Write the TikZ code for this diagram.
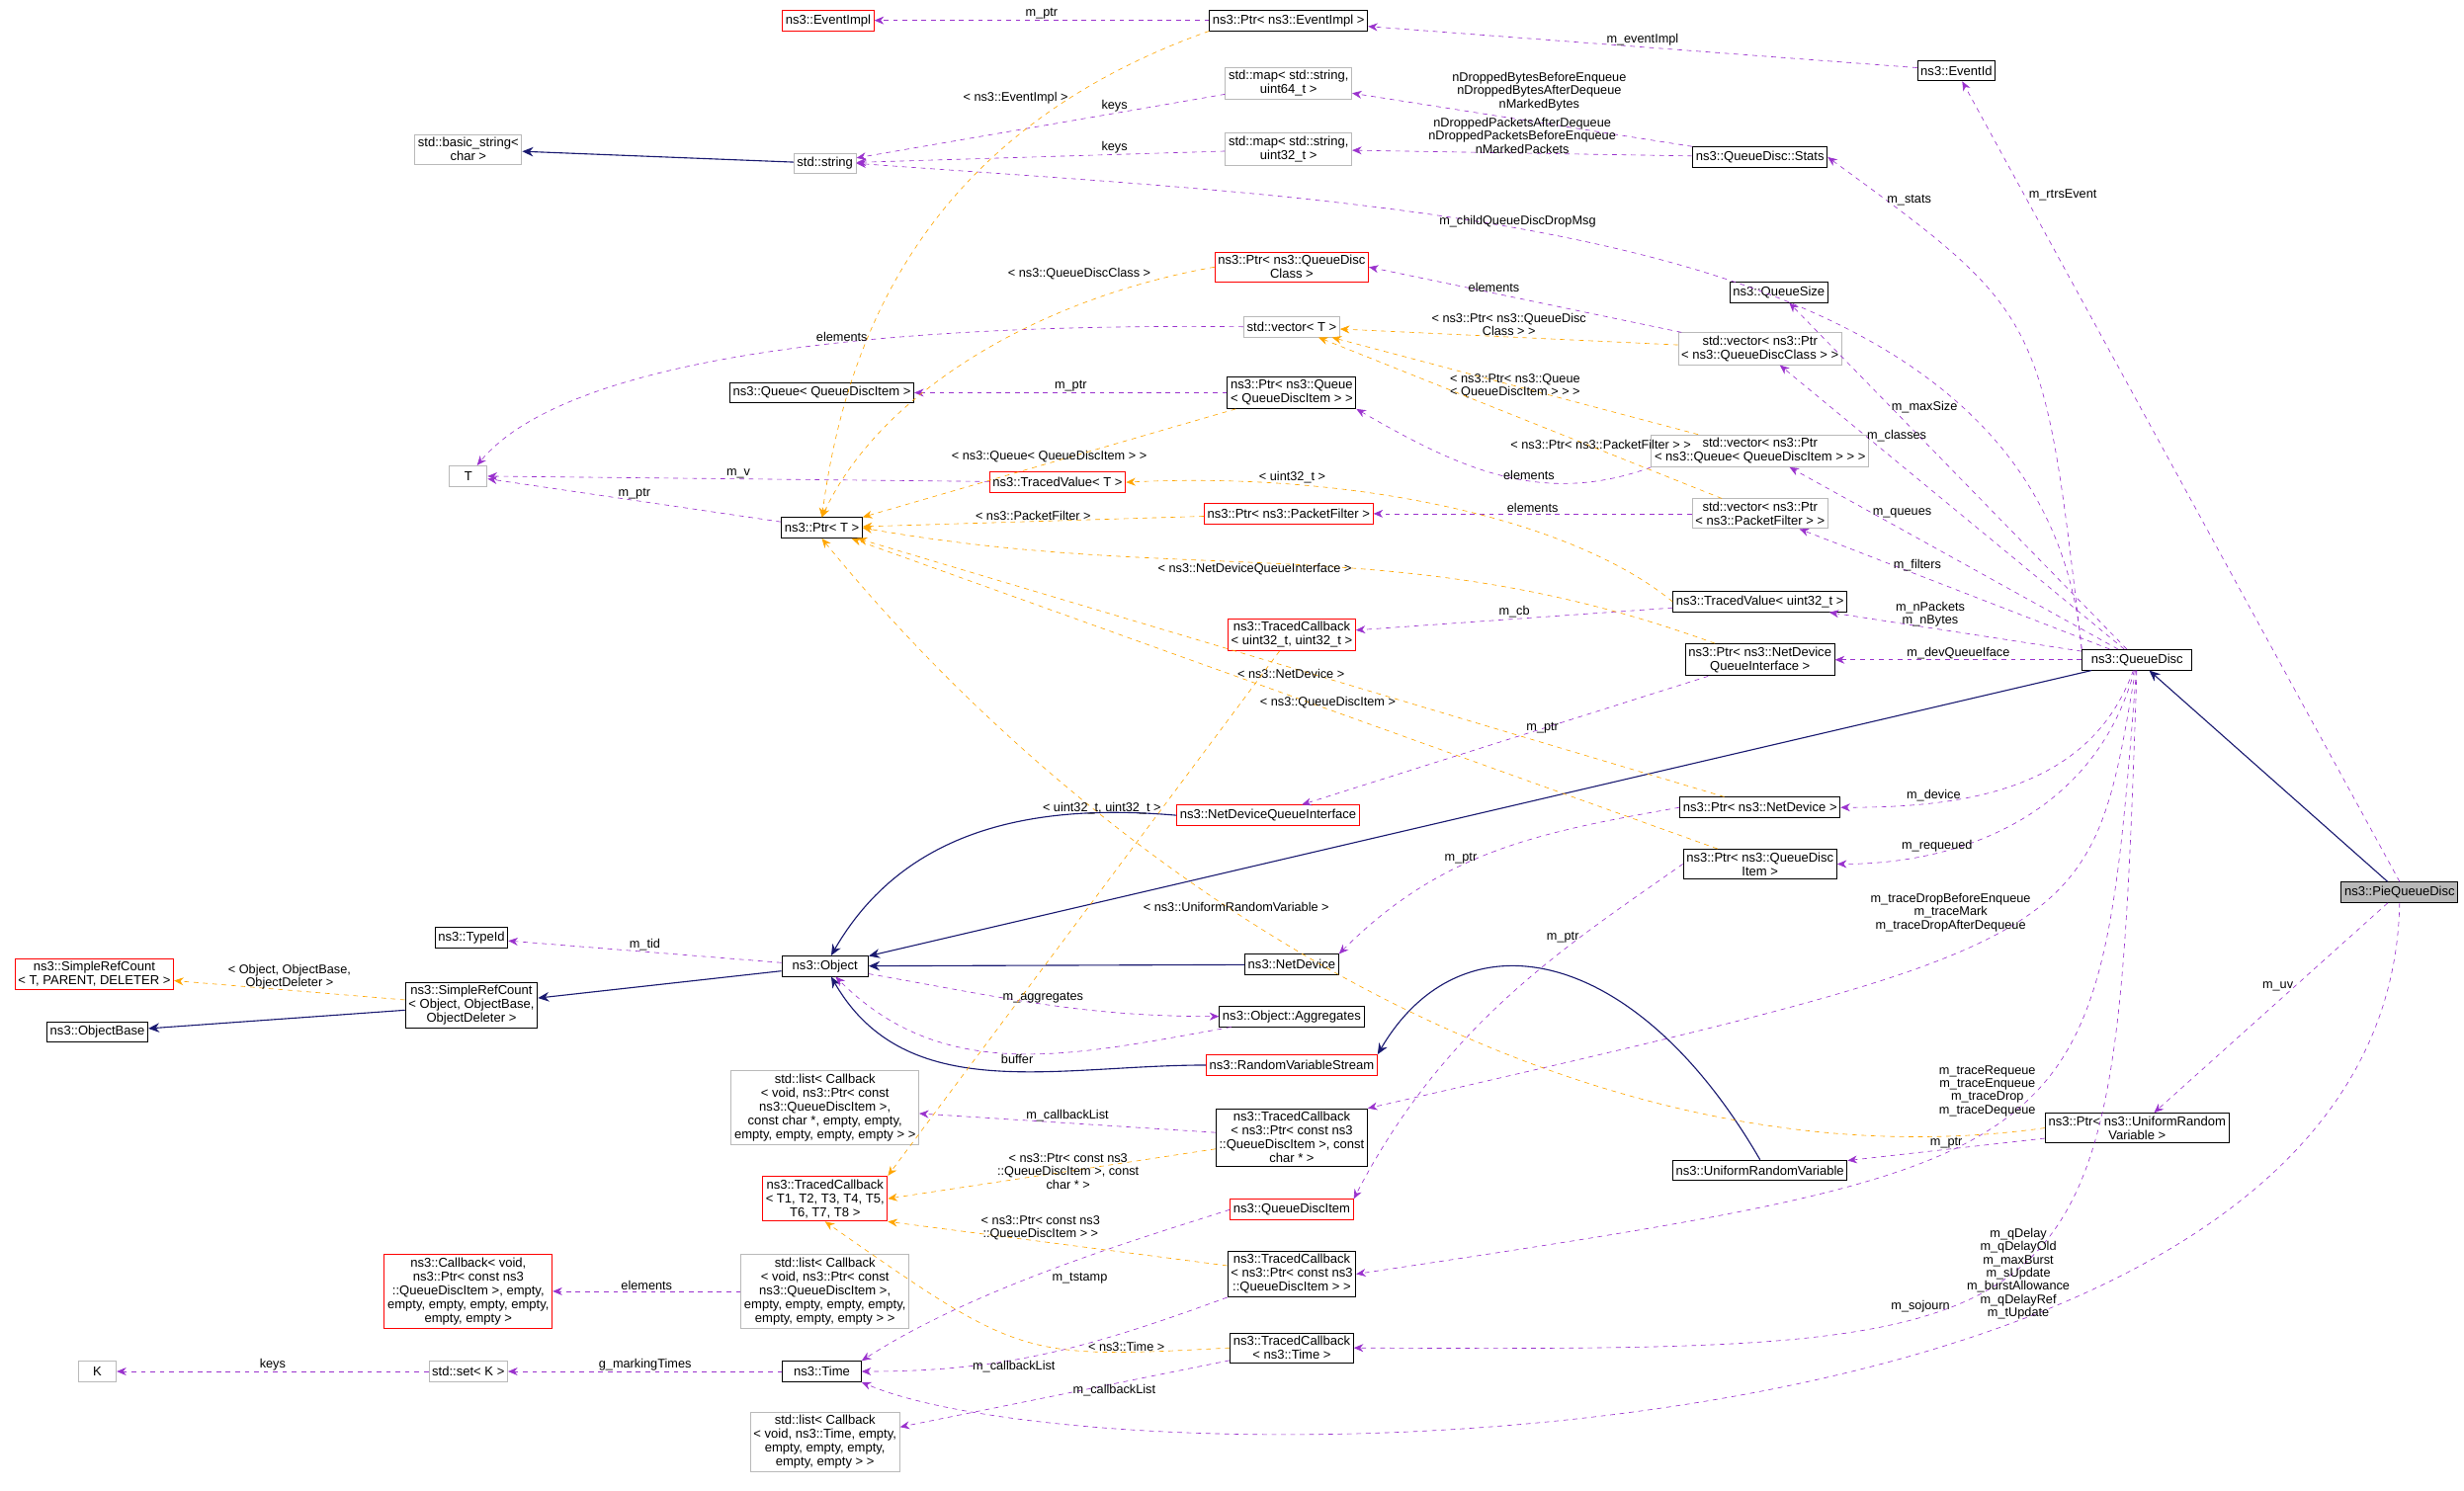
\documentclass[tikz,border=0pt]{standalone}
\usepackage{fontspec}
\setmainfont{Liberation Sans}
\usetikzlibrary{arrows.meta}
\definecolor{usec}{HTML}{9A32CD}
\definecolor{tplc}{HTML}{FFA500}
\definecolor{inhc}{HTML}{191970}
\begin{document}
\begin{tikzpicture}[x=1pt,y=-1pt,
  every node/.style={font=\fontsize{8.2}{8.8}\selectfont,align=center},
  box/.style={draw=black,inner sep=2pt,minimum height=13pt,line width=0.6pt},
  redbox/.style={draw=red,inner sep=2pt,minimum height=13pt,line width=0.6pt},
  graybox/.style={draw=gray!55,inner sep=2pt,minimum height=13pt,line width=0.6pt},
  usage/.style={draw=usec,dashed,-{Stealth[length=6pt,width=5pt]}},
  tpl/.style={draw=tplc,dashed,-{Stealth[length=6pt,width=5pt]}},
  inh/.style={draw=inhc,line width=0.7pt,-{Stealth[length=7pt,width=6pt]}},
  lbl/.style={inner sep=0.5pt,font=\fontsize{8}{8.4}\selectfont}]
\useasboundingbox (0,0) rectangle (1568,949);
% nodes
\node[redbox] (EventImpl) at (527,13) {ns3::EventImpl};
\node[box] (PtrEventImpl) at (820,13) {ns3::Ptr< ns3::EventImpl >};
\node[box] (EventId) at (1245,45) {ns3::EventId};
\node[graybox] (mapu64) at (820,53) {std::map< std::string,\\ uint64\_t >};
\node[graybox] (mapu32) at (820,95) {std::map< std::string,\\ uint32\_t >};
\node[graybox] (basicstring) at (298,95) {std::basic\_string<\\ char >};
\node[graybox] (string) at (525,104) {std::string};
\node[box] (Stats) at (1120,100) {ns3::QueueDisc::Stats};
\node[redbox] (PtrQDClass) at (822,170) {ns3::Ptr< ns3::QueueDisc\\Class >};
\node[box] (QueueSize) at (1132,186) {ns3::QueueSize};
\node[graybox] (vectorT) at (822,208) {std::vector< T >};
\node[graybox] (vecQDClass) at (1120,222) {std::vector< ns3::Ptr\\< ns3::QueueDiscClass > >};
\node[box] (QueueQDI) at (523,250) {ns3::Queue< QueueDiscItem >};
\node[box] (PtrQueue) at (822,250) {ns3::Ptr< ns3::Queue\\< QueueDiscItem > >};
\node[graybox] (vecQueue) at (1120,287) {std::vector< ns3::Ptr\\< ns3::Queue< QueueDiscItem > > >};
\node[graybox,minimum width=24pt] (T) at (298,303) {T};
\node[redbox] (TracedValueT) at (673,307) {ns3::TracedValue< T >};
\node[box] (PtrT) at (523,336) {ns3::Ptr< T >};
\node[redbox] (PtrPF) at (820,327) {ns3::Ptr< ns3::PacketFilter >};
\node[graybox] (vecPF) at (1120,327) {std::vector< ns3::Ptr\\< ns3::PacketFilter > >};
\node[box] (TracedValueU32) at (1120,383) {ns3::TracedValue< uint32\_t >};
\node[redbox] (TCu32) at (822,404) {ns3::TracedCallback\\< uint32\_t, uint32\_t >};
\node[box] (PtrNDQI) at (1120,420) {ns3::Ptr< ns3::NetDevice\\QueueInterface >};
\node[box,minimum width=70pt] (QueueDisc) at (1360,420) {ns3::QueueDisc};
\node[redbox] (NDQI) at (807,519) {ns3::NetDeviceQueueInterface};
\node[box] (PtrND) at (1120,514) {ns3::Ptr< ns3::NetDevice >};
\node[box] (PtrQDI) at (1120,550) {ns3::Ptr< ns3::QueueDisc\\Item >};
\node[box,fill=gray!55] (Pie) at (1527,568) {ns3::PieQueueDisc};
\node[box] (TypeId) at (300,597) {ns3::TypeId};
\node[redbox] (SRCR) at (60,620) {ns3::SimpleRefCount\\< T, PARENT, DELETER >};
\node[box] (SRC) at (300,640) {ns3::SimpleRefCount\\< Object, ObjectBase,\\ObjectDeleter >};
\node[box,minimum width=55pt] (Object) at (525,615) {ns3::Object};
\node[box] (NetDevice) at (822,614) {ns3::NetDevice};
\node[box] (ObjectBase) at (62,657) {ns3::ObjectBase};
\node[box] (Aggregates) at (822,647) {ns3::Object::Aggregates};
\node[redbox] (RVS) at (822,678) {ns3::RandomVariableStream};
\node[graybox] (listCB1) at (525,705) {std::list< Callback\\< void, ns3::Ptr< const\\ ns3::QueueDiscItem >,\\ const char *, empty, empty,\\ empty, empty, empty, empty > >};
\node[box] (TCqdic) at (822,724) {ns3::TracedCallback\\< ns3::Ptr< const ns3\\::QueueDiscItem >, const\\ char * >};
\node[box] (PtrURV) at (1360,718) {ns3::Ptr< ns3::UniformRandom\\Variable >};
\node[box] (URV) at (1120,745) {ns3::UniformRandomVariable};
\node[redbox] (TCgen) at (525,763) {ns3::TracedCallback\\< T1, T2, T3, T4, T5,\\ T6, T7, T8 >};
\node[redbox] (QDI) at (822,770) {ns3::QueueDiscItem};
\node[redbox] (CallbackR) at (298,822) {ns3::Callback< void,\\ ns3::Ptr< const ns3\\::QueueDiscItem >, empty,\\ empty, empty, empty, empty,\\ empty, empty >};
\node[graybox] (listCB2) at (525,822) {std::list< Callback\\< void, ns3::Ptr< const\\ ns3::QueueDiscItem >,\\ empty, empty, empty, empty,\\ empty, empty, empty > >};
\node[box] (TCqdi) at (822,811) {ns3::TracedCallback\\< ns3::Ptr< const ns3\\::QueueDiscItem > >};
\node[graybox,minimum width=24pt] (K) at (62,873) {K};
\node[graybox] (setK) at (298,873) {std::set< K >};
\node[box,minimum width=50pt] (Time) at (523,873) {ns3::Time};
\node[box] (TCtime) at (822,858) {ns3::TracedCallback\\< ns3::Time >};
\node[graybox] (listCB3) at (525,918) {std::list< Callback\\< void, ns3::Time, empty,\\ empty, empty, empty,\\ empty, empty > >};
% inheritance
\draw[inh] (string) -- (basicstring);
\draw[inh] (QueueDisc) -- (Object);
\draw[inh] (Pie) -- (QueueDisc);
\draw[inh] (NDQI.west) to[out=175,in=60] (Object);
\draw[inh] (NetDevice) -- (Object);
\draw[inh] (RVS.west) to[out=180,in=-60] (Object);
\draw[inh] (URV.north) .. controls (1040,600) and (930,580) .. (RVS.north east);
\draw[inh] (Object) -- (SRC);
\draw[inh] (SRC) -- (ObjectBase);
% usage
\draw[usage] (PtrEventImpl) -- node[lbl,above]{m\_ptr} (EventImpl);
\draw[usage] (EventId) -- node[lbl,above]{m\_eventImpl} (PtrEventImpl);
\draw[usage] (Pie.north) -- node[lbl,pos=0.85,above right]{m\_rtrsEvent} (EventId);
\draw[usage] (mapu64) -- node[lbl,above,pos=0.3]{keys} (string);
\draw[usage] (mapu32) -- node[lbl,above,pos=0.3]{keys} (string);
\draw[usage] (Stats) -- node[lbl,above,pos=0.45,yshift=7pt]{nDroppedBytesBeforeEnqueue\\nDroppedBytesAfterDequeue\\nMarkedBytes} (mapu64);
\draw[usage] (Stats) -- node[lbl,above,pos=0.5,yshift=-1pt]{nDroppedPacketsAfterDequeue\\nDroppedPacketsBeforeEnqueue\\nMarkedPackets} (mapu32);
\draw[usage] (QueueDisc.north west) .. controls (1300,200) .. node[lbl,pos=0.9,right]{m\_stats} (Stats.east);
\draw[usage] (QueueDisc.north west) .. controls (1300,140) and (900,130) .. node[lbl,pos=0.6,above]{m\_childQueueDiscDropMsg} (string.east);
\draw[usage] (vecQDClass) -- node[lbl,above,pos=0.6]{elements} (PtrQDClass.east);
\draw[usage] (QueueDisc) -- node[lbl,pos=0.7,right]{m\_maxSize} (QueueSize);
\draw[usage] (vectorT.west) .. controls (500,205) and (350,240) .. node[lbl,pos=0.35,above]{elements} (T);
\draw[usage] (QueueDisc) -- node[lbl,pos=0.75,right]{m\_classes} (vecQDClass);
\draw[usage] (PtrQueue) -- node[lbl,above]{m\_ptr} (QueueQDI);
\draw[usage] (vecQueue.south west) to[out=200,in=-30] node[lbl,pos=0.4,above]{elements} (PtrQueue.south east);
\draw[usage] (QueueDisc) -- node[lbl,pos=0.75,right]{m\_queues} (vecQueue);
\draw[usage] (TracedValueT) -- node[lbl,above]{m\_v} (T);
\draw[usage] (PtrT) -- node[lbl,above]{m\_ptr} (T);
\draw[usage] (vecPF) -- node[lbl,above]{elements} (PtrPF);
\draw[usage] (QueueDisc) -- node[lbl,pos=0.7,right]{m\_filters} (vecPF);
\draw[usage] (TracedValueU32) -- node[lbl,above]{m\_cb} (TCu32);
\draw[usage] (QueueDisc) -- node[lbl,pos=0.6,above]{m\_nPackets\\m\_nBytes} (TracedValueU32);
\draw[usage] (QueueDisc) -- node[lbl,pos=0.5,above]{m\_devQueueIface} (PtrNDQI);
\draw[usage] (PtrNDQI) -- node[lbl,pos=0.45,above right]{m\_ptr} (NDQI);
\draw[usage] (QueueDisc) to[out=-110,in=0] node[lbl,pos=0.75,above]{m\_device} (PtrND);
\draw[usage] (QueueDisc) to[out=-105,in=0] node[lbl,pos=0.75,above]{m\_requeued} (PtrQDI);
\draw[usage] (Object) -- node[lbl,above]{m\_tid} (TypeId);
\draw[usage] (Object) to[out=-10,in=180] node[lbl,above]{m\_aggregates} (Aggregates);
\draw[usage] (Aggregates) to[out=190,in=-45] node[lbl,below]{buffer} (Object);
\draw[usage] (PtrND.west) to[out=190,in=45] node[lbl,pos=0.55,left]{m\_ptr} (NetDevice.north east);
\draw[usage] (PtrQDI.west) .. controls (1000,600) and (920,650) .. node[lbl,pos=0.3,left]{m\_ptr} (QDI.north east);
\draw[usage] (QueueDisc) .. controls (1330,600) .. node[lbl,pos=0.45,left]{m\_traceDropBeforeEnqueue\\m\_traceMark\\m\_traceDropAfterDequeue} (TCqdic.north east);
\draw[usage] (QueueDisc) .. controls (1335,740) .. node[lbl,pos=0.45,left]{m\_traceRequeue\\m\_traceEnqueue\\m\_traceDrop\\m\_traceDequeue} (TCqdi.east);
\draw[usage] (QueueDisc) .. controls (1345,860) .. node[lbl,pos=0.6,left]{m\_sojourn} (TCtime.east);
\draw[usage] (TCqdic) -- node[lbl,above]{m\_callbackList} (listCB1);
\draw[usage] (listCB2) -- node[lbl,above]{elements} (CallbackR);
\draw[usage] (TCqdi.south west) to[out=200,in=0] node[lbl,pos=0.6,below]{m\_callbackList} (Time.east);
\draw[usage] (TCtime) -- node[lbl,below,pos=0.35]{m\_callbackList} (listCB3);
\draw[usage] (setK) -- node[lbl,above]{keys} (K);
\draw[usage] (Time) -- node[lbl,above]{g\_markingTimes} (setK);
\draw[usage] (QDI.west) .. controls (720,790) and (620,820) .. node[lbl,pos=0.5,anchor=north west,yshift=-1pt]{m\_tstamp} (Time.north east);
\draw[usage] (Pie.south) .. controls (1520,945) and (700,945) .. node[lbl,pos=0.35,above]{m\_qDelay\\m\_qDelayOld\\m\_maxBurst\\m\_sUpdate\\m\_burstAllowance\\m\_qDelayRef\\m\_tUpdate} (Time.south east);
\draw[usage] (Pie) -- node[lbl,pos=0.4,left]{m\_uv} (PtrURV);
\draw[usage] (PtrURV) -- node[lbl,above]{m\_ptr} (URV);
% templates
\draw[tpl] (PtrEventImpl.south west) .. controls (600,80) and (540,200) .. node[lbl,pos=0.2,left]{< ns3::EventImpl >} (PtrT.north);
\draw[tpl] (PtrQDClass.west) .. controls (660,190) and (560,250) .. node[lbl,pos=0.12,above left]{< ns3::QueueDiscClass >} (PtrT.north);
\draw[tpl] (vecQDClass) -- node[lbl,above,pos=0.5]{< ns3::Ptr< ns3::QueueDisc\\Class > >} (vectorT);
\draw[tpl] (vecQueue) -- node[lbl,pos=0.5]{< ns3::Ptr< ns3::Queue\\< QueueDiscItem > > >} (vectorT);
\draw[tpl] (vecPF) -- node[lbl,pos=0.3,above]{< ns3::Ptr< ns3::PacketFilter > >} (vectorT);
\draw[tpl] (PtrQueue) -- node[lbl,pos=0.5,above]{< ns3::Queue< QueueDiscItem > >} (PtrT.north east);
\draw[tpl] (PtrPF) -- node[lbl,above]{< ns3::PacketFilter >} (PtrT);
\draw[tpl] (TracedValueU32.west) .. controls (1000,330) and (860,300) .. node[lbl,pos=0.75,above]{< uint32\_t >} (TracedValueT.east);
\draw[tpl] (PtrNDQI) to[out=160,in=-10] node[lbl,pos=0.55,below]{< ns3::NetDeviceQueueInterface >} (PtrT.east);
\draw[tpl] (PtrND) -- node[lbl,pos=0.5,below]{< ns3::NetDevice >} (PtrT);
\draw[tpl] (PtrQDI) -- node[lbl,pos=0.45,above]{< ns3::QueueDiscItem >} (PtrT);
\draw[tpl] (PtrURV.west) .. controls (1000,760) and (700,560) .. node[lbl,pos=0.6,above]{< ns3::UniformRandomVariable >} (PtrT.south);
\draw[tpl] (TCu32) -- node[lbl,pos=0.3,left]{< uint32\_t, uint32\_t >} (TCgen.north east);
\draw[tpl] (TCqdic) -- node[lbl,pos=0.45]{< ns3::Ptr< const ns3\\::QueueDiscItem >, const\\char * >} (TCgen.east);
\draw[tpl] (TCqdi) -- node[lbl,pos=0.55,above]{< ns3::Ptr< const ns3\\::QueueDiscItem > >} (TCgen.south east);
\draw[tpl] (TCtime.west) .. controls (650,865) .. node[lbl,pos=0.2,above]{< ns3::Time >} (TCgen.south);
\draw[tpl] (SRC) -- node[lbl,above]{< Object, ObjectBase,\\ObjectDeleter >} (SRCR);
\end{tikzpicture}
\end{document}
